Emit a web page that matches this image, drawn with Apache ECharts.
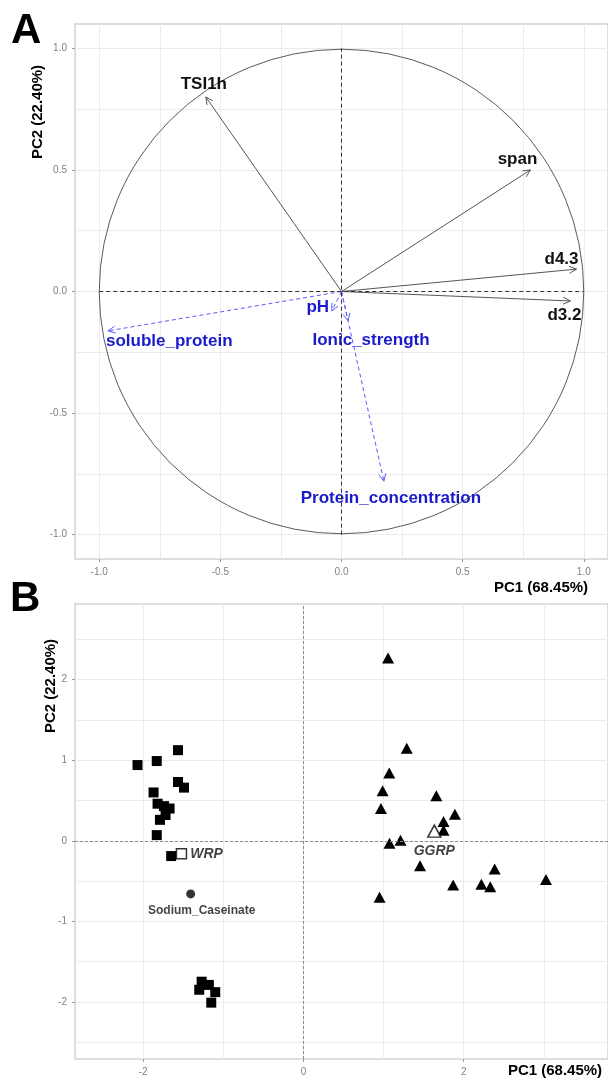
<!DOCTYPE html>
<html lang="en">
<head>
    <meta charset="UTF-8">
    <title>PCA biplot</title>
    <script src="https://cdn.jsdelivr.net/npm/echarts@6/dist/echarts.min.js"></script>
    <style>
        html, body { margin: 0; padding: 0; background: #fff; }
    </style>
</head>
<body>
    <div id="main" style="width: 608px; height: 1080px;"></div>
    <script type="text/javascript">
        // ---- panel A: variables (loadings) ----
        var activeNames = ['TSI1h', 'span', 'd4.3', 'd3.2'];
        var activePC1 = [-0.56, 0.78, 0.97, 0.945];
        var activePC2 = [0.80, 0.50, 0.092, -0.039];

        var suppNames = ['soluble_protein', 'pH', 'Ionic_strength', 'Protein_concentration'];
        var suppPC1 = [-0.964, -0.04, 0.027, 0.175];
        var suppPC2 = [-0.162, -0.08, -0.12, -0.78];

        var circleRadius = 1;

        // ---- panel B: individuals (scores) ----
        var wrpPC1 = [-1.565, -1.83, -2.07, -1.565, -1.49, -1.87, -1.82, -1.74, -1.67, -1.72, -1.79, -1.83, -1.65,
            -1.27, -1.30, -1.18, -1.10, -1.15];
        var wrpPC2 = [1.125, 0.99, 0.94, 0.73, 0.66, 0.60, 0.46, 0.43, 0.40, 0.32, 0.26, 0.07, -0.19,
            -1.75, -1.85, -1.79, -1.88, -2.01];

        var ggrpPC1 = [1.056, 1.289, 1.071, 0.988, 0.967, 1.658, 1.89, 1.748, 1.748, 1.074, 1.211, 1.455, 2.386,
            1.868, 2.22, 2.331, 3.026, 0.95];
        var ggrpPC2 = [2.27, 1.15, 0.84, 0.62, 0.40, 0.56, 0.33, 0.24, 0.13, -0.03, 0.005, -0.31, -0.35,
            -0.55, -0.54, -0.57, -0.48, -0.70];

        var centroidNames = ['WRP', 'Sodium_Caseinate', 'GGRP'];
        var centroidPC1 = [-1.522, -1.407, 1.633];
        var centroidPC2 = [-0.16, -0.66, 0.12];

        // tick labels / grid lines
        var ticksA = [-1, -0.5, 0, 0.5, 1];
        var gridA = [-1, -0.75, -0.5, -0.25, 0, 0.25, 0.5, 0.75, 1];
        var ticksBx = [-2, 0, 2];
        var gridBx = [-2, -1, 0, 1, 2, 3];
        var ticksBy = [-2, -1, 0, 1, 2];
        var gridBy = [-2.5, -2, -1.5, -1, -0.5, 0, 0.5, 1, 1.5, 2, 2.5];

        // label placement (pixel offsets from the arrow tip)
        var activeLabelOffset = [[-2, -13], [-13, -11], [-15, -10], [-6, 14]];
        var suppLabelOffset = [[-2, 10], [-14, -4], [23, 20], [7, 17]];
        var suppLabelAlign = ['left', 'center', 'center', 'center'];

        var FONT = 'Liberation Sans, Arial, sans-serif';
        var tickGrey = '#808080';

        function zip(a, b) {
            return a.map(function (v, i) { return [v, b[i]]; });
        }

        var myChart = echarts.init(document.getElementById('main'));

        function labelAxis(gridIndex, min, max, values, fmt) {
            return {
                type: 'value', gridIndex: gridIndex, min: min, max: max,
                axisLine: { show: false, onZero: false },
                axisTick: { show: true, length: 3, customValues: values, lineStyle: { color: '#9a9a9a' } },
                axisLabel: {
                    customValues: values, color: tickGrey, fontSize: 10, fontFamily: FONT,
                    margin: 8, formatter: fmt
                },
                splitLine: { show: false }
            };
        }
        function gridAxis(gridIndex, min, max, values) {
            return {
                type: 'value', gridIndex: gridIndex, min: min, max: max,
                axisLine: { show: false, onZero: false },
                axisTick: { show: false, customValues: values },
                axisLabel: { show: false },
                splitLine: { show: true, lineStyle: { color: '#ebebeb', width: 1 } }
            };
        }
        var fmtA = function (v) { return v.toFixed(1); };
        var fmtB = function (v) { return String(v); };

        function arrowRender(names, offsets, color, dashed, aligns, textColor) {
            return function (params, api) {
                var i = params.dataIndex;
                var o = api.coord([0, 0]);
                var p = api.coord([api.value(0), api.value(1)]);
                var ang = Math.atan2(p[1] - o[1], p[0] - o[0]);
                var L = 8, a = Math.PI / 7;
                var h1 = [p[0] - L * Math.cos(ang - a), p[1] - L * Math.sin(ang - a)];
                var h2 = [p[0] - L * Math.cos(ang + a), p[1] - L * Math.sin(ang + a)];
                var off = offsets[i];
                return {
                    type: 'group',
                    children: [
                        {
                            type: 'line', shape: { x1: o[0], y1: o[1], x2: p[0], y2: p[1] },
                            style: { stroke: color, lineWidth: 1, lineDash: dashed ? [4, 3] : null }
                        },
                        {
                            type: 'polyline', shape: { points: [h1, p, h2] },
                            style: { stroke: color, fill: null, lineWidth: 1 }
                        },
                        {
                            type: 'text', x: p[0] + off[0], y: p[1] + off[1],
                            style: {
                                text: names[i], fill: textColor, font: 'bold 17px ' + FONT,
                                textAlign: aligns ? aligns[i] : 'center', textVerticalAlign: 'middle'
                            }
                        }
                    ]
                };
            };
        }

        var option = {
            animation: false,
            backgroundColor: '#fff',
            grid: [
                { left: 75, top: 24, width: 535, height: 535, show: true, borderColor: '#d4d4d4', borderWidth: 1.5 },
                { left: 75, top: 604, width: 536, height: 455, show: true, borderColor: '#d4d4d4', borderWidth: 1.5 }
            ],
            xAxis: [
                labelAxis(0, -1.1, 1.1, ticksA, fmtA),
                gridAxis(0, -1.1, 1.1, gridA),
                labelAxis(1, -2.85, 3.8, ticksBx, fmtB),
                gridAxis(1, -2.85, 3.8, gridBx)
            ],
            yAxis: [
                labelAxis(0, -1.1, 1.1, ticksA, fmtA),
                gridAxis(0, -1.1, 1.1, gridA),
                labelAxis(1, -2.71, 2.94, ticksBy, fmtB),
                gridAxis(1, -2.71, 2.94, gridBy)
            ],
            graphic: [
                { type: 'text', left: 11, top: 10, style: { text: 'A', font: 'bold 42px ' + FONT, fill: '#000' } },
                { type: 'text', left: 10, top: 578, style: { text: 'B', font: 'bold 42px ' + FONT, fill: '#000' } },
                {
                    type: 'text', x: 38, y: 112, rotation: Math.PI / 2,
                    style: { text: 'PC2 (22.40%)', font: 'bold 15px ' + FONT, fill: '#000', textAlign: 'center', textVerticalAlign: 'middle' }
                },
                {
                    type: 'text', x: 541, y: 588,
                    style: { text: 'PC1 (68.45%)', font: 'bold 15px ' + FONT, fill: '#000', textAlign: 'center', textVerticalAlign: 'middle' }
                },
                {
                    type: 'text', x: 51, y: 686, rotation: Math.PI / 2,
                    style: { text: 'PC2 (22.40%)', font: 'bold 15px ' + FONT, fill: '#000', textAlign: 'center', textVerticalAlign: 'middle' }
                },
                {
                    type: 'text', x: 555, y: 1071,
                    style: { text: 'PC1 (68.45%)', font: 'bold 15px ' + FONT, fill: '#000', textAlign: 'center', textVerticalAlign: 'middle' }
                }
            ],
            series: [
                // correlation circle
                {
                    type: 'custom', xAxisIndex: 0, yAxisIndex: 0, silent: true,
                    data: [[0, 0, circleRadius]],
                    renderItem: function (params, api) {
                        var c = api.coord([api.value(0), api.value(1)]);
                        var r = api.coord([api.value(2), 0])[0] - c[0];
                        return {
                            type: 'circle', shape: { cx: c[0], cy: c[1], r: r },
                            style: { stroke: '#5a5a5a', fill: null, lineWidth: 1 }
                        };
                    }
                },
                // dashed cross in panel A
                {
                    type: 'line', xAxisIndex: 0, yAxisIndex: 0, symbol: 'none', silent: true,
                    data: [[-circleRadius, 0], [circleRadius, 0]],
                    lineStyle: { color: '#333', width: 1, type: [4, 3] }
                },
                {
                    type: 'line', xAxisIndex: 0, yAxisIndex: 0, symbol: 'none', silent: true,
                    data: [[0, -circleRadius], [0, circleRadius]],
                    lineStyle: { color: '#333', width: 1, type: [4, 3] }
                },
                // active variable arrows
                {
                    type: 'custom', xAxisIndex: 0, yAxisIndex: 0, silent: true,
                    data: zip(activePC1, activePC2),
                    renderItem: arrowRender(activeNames, activeLabelOffset, '#555', false, null, '#111')
                },
                // supplementary variable arrows
                {
                    type: 'custom', xAxisIndex: 0, yAxisIndex: 0, silent: true,
                    data: zip(suppPC1, suppPC2),
                    renderItem: arrowRender(suppNames, suppLabelOffset, '#5a5aff', true, suppLabelAlign, '#1a1acc')
                },

                // ---- panel B ----
                {
                    type: 'scatter', xAxisIndex: 2, yAxisIndex: 2, silent: true,
                    data: [],
                    markLine: {
                        silent: true, symbol: 'none', label: { show: false },
                        lineStyle: { color: '#8c8c8c', width: 1, type: [3, 2] },
                        data: [{ xAxis: 0 }, { yAxis: 0 }]
                    }
                },
                {
                    name: 'WRP', type: 'scatter', xAxisIndex: 2, yAxisIndex: 2,
                    symbol: 'rect', symbolSize: 10,
                    itemStyle: { color: '#000', opacity: 1 },
                    data: zip(wrpPC1, wrpPC2)
                },
                {
                    name: 'GGRP', type: 'scatter', xAxisIndex: 2, yAxisIndex: 2,
                    symbol: 'triangle', symbolSize: [12, 11],
                    itemStyle: { color: '#000', opacity: 1 },
                    data: zip(ggrpPC1, ggrpPC2)
                },
                {
                    type: 'scatter', xAxisIndex: 2, yAxisIndex: 2, z: 5,
                    data: [
                        {
                            value: [centroidPC1[0], centroidPC2[0]], symbol: 'rect', symbolSize: 10,
                            itemStyle: { color: '#fff', borderColor: '#000', borderWidth: 1.5 },
                            label: { show: true, formatter: centroidNames[0], position: 'right', distance: 3,
                                fontStyle: 'italic', fontWeight: 'bold', fontSize: 14, color: '#111', fontFamily: FONT }
                        },
                        {
                            value: [centroidPC1[1], centroidPC2[1]], symbol: 'circle', symbolSize: 9,
                            itemStyle: { color: '#000' },
                            label: { show: true, formatter: centroidNames[1], position: 'bottom', distance: 6, offset: [11, 0],
                                fontWeight: 'bold', fontSize: 12, color: '#111', fontFamily: FONT }
                        },
                        {
                            value: [centroidPC1[2], centroidPC2[2]], symbol: 'triangle', symbolSize: [13, 12],
                            itemStyle: { color: '#fff', borderColor: '#000', borderWidth: 1.5 },
                            label: { show: true, formatter: centroidNames[2], position: 'bottom', distance: 6,
                                fontStyle: 'italic', fontWeight: 'bold', fontSize: 14, color: '#111', fontFamily: FONT }
                        }
                    ]
                }
            ]
        };

        myChart.setOption(option);
    </script>
</body>
</html>
